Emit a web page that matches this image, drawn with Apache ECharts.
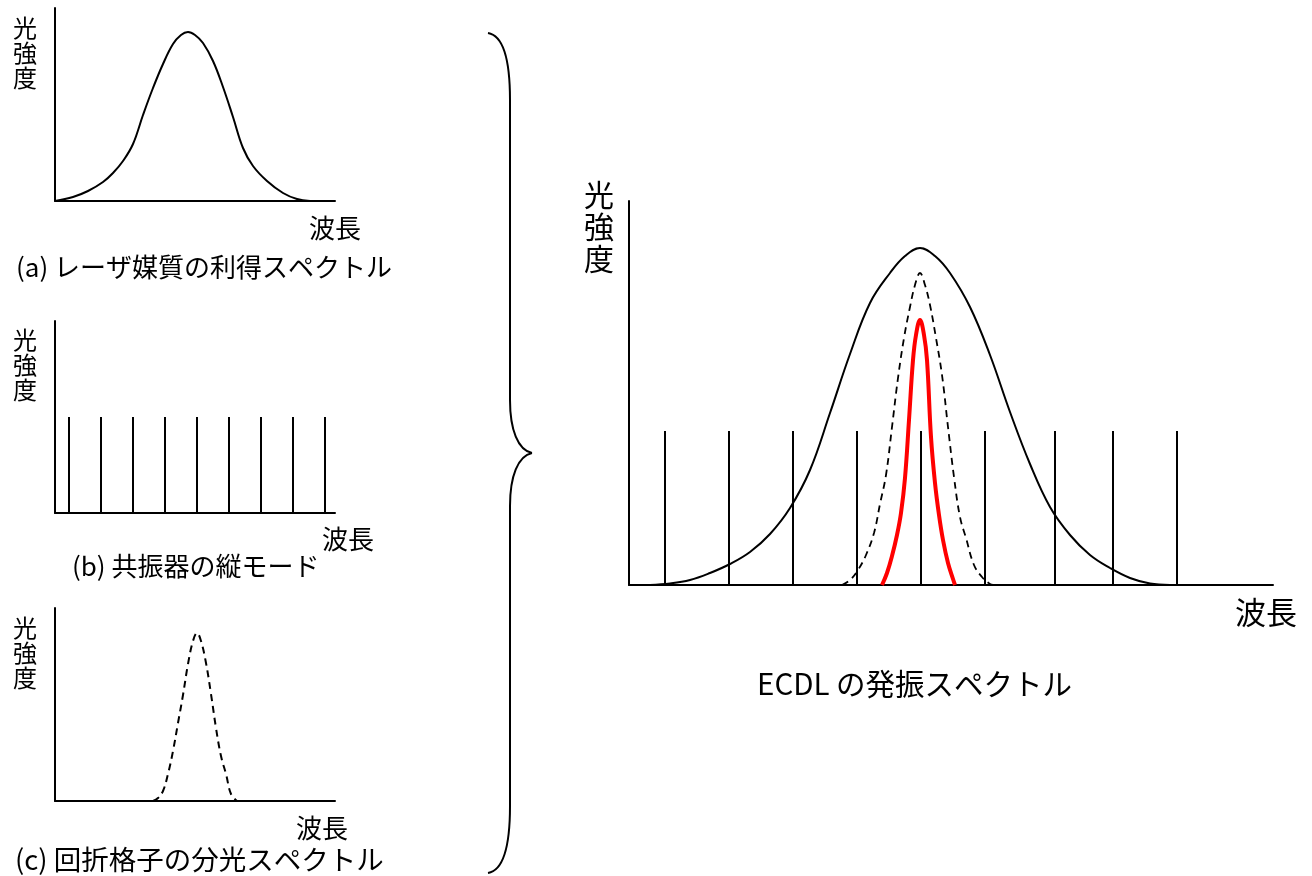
<!DOCTYPE html>
<html>
<head>
<meta charset="utf-8">
<script src="https://cdn.jsdelivr.net/npm/echarts@6/dist/echarts.min.js"></script>
<style>
html,body{margin:0;padding:0;background:#fff;}
#chart{width:1312px;height:876px;}
</style>
</head>
<body>
<div id="chart"></div>
<script>
// ---- Data (abstract wavelength / intensity units) ----
// (a) gain spectrum of the laser medium
const gainAx = [0,18,33,48,58,68,78,88,98,108,118,126,133,140,148,158,168,178,188,198,212,228,242,255];
const gainAy = [0,4,10,19,28,40,57,86,113,137,157,166,169,166,158,140,114,84,53,35,20,8,2,0];
// (b) longitudinal modes of the resonator
const modesB = [14,46,78,110,142,174,206,238,270];
const modeHeightB = 96;
// (c) grating spectrum
const gratingCx = [98,103,108,113,118,123,128,133,138,142,146,151,156,161,166,171,176,182];
const gratingCy = [0,3,10,27,50,78,106,137,160,168,160,138,107,73,45,27,7,0];
// main: ECDL oscillation spectrum
const gainMainX = [21,41,61,81,101,121,141,161,181,201,221,241,261,276,291,306,321,341,361,381,401,421,441,461,481,501,521,541];
const gainMainY = [0,1.5,5,12,21,33,51,77,115,172,231,282,312,329,337,329,312,278,230,173,121,78,50,30,17,7,1.5,0];
const modesMain = [36,100,164,228,292,356,426,484,548];
const modeHeightMain = 154;
const gratingMainX = [213,221,229,237,245,251,257,263,269,275,281,286,291,296,301,307,313,319,325,331,337,345,353,361,364];
const gratingMainY = [0,5,15,30,52,81,110,158,207,247,278,300,312,300,280,247,210,158,108,68,47,20,8,1,0];
const outputMainX = [253,258,263,268,272,276,280,284,287,291,295,298,302,306,310,314,319,324,326];
const outputMainY = [0,12,29,50,72,107,165,225,250,265,250,225,148,102,70,45,22,6,0];

// ---- Texts ----
const yName = '光\n強\n度';
const xName = '波長';
const captionA = '(a) レーザ媒質の利得スペクトル';
const captionB = '(b) 共振器の縦モード';
const captionC = '(c) 回折格子の分光スペクトル';
const titleMain = 'ECDL の発振スペクトル';

const FONT = '"Noto Sans CJK JP","Noto Sans",sans-serif';
const chart = echarts.init(document.getElementById('chart'));

const zip = (xs, ys) => xs.map((x, k) => [x, ys[k]]);

const grids = [
  {left:55, top:8, width:280, height:193},
  {left:55, top:321, width:280, height:192},
  {left:55, top:608, width:280, height:193},
  {left:629, top:201, width:644, height:384}
];
function axisX(i){ return {type:'value', gridIndex:i, min:0, max:grids[i].width, axisLine:{show:true, lineStyle:{color:'#000', width:2}}, axisTick:{show:false}, axisLabel:{show:false}, splitLine:{show:false}}; }
function axisY(i){ return {type:'value', gridIndex:i, min:0, max:grids[i].height, axisLine:{show:true, lineStyle:{color:'#000', width:2}}, axisTick:{show:false}, axisLabel:{show:false}, splitLine:{show:false}}; }

function curve(i, data, opts){
  return Object.assign({type:'line', xAxisIndex:i, yAxisIndex:i, data:data, smooth:0.4, symbol:'none',
    lineStyle:{color:'#000', width:2}, z:3}, opts||{});
}
function modes(i, xs, h, w){
  return {type:'bar', xAxisIndex:i, yAxisIndex:i, data:xs.map(x=>[x,h]), barWidth:w, itemStyle:{color:'#000'}, z:2};
}

function txt(x, y, text, size, align, vAlign, lh){
  return {type:'text', x:x, y:y, silent:true, style:{text:text, fill:'#000', font:size+'px '+FONT, textAlign:align||'left', textVerticalAlign:vAlign||'middle', lineHeight:lh||size}};
}
const braceStyle = {fill:'none', stroke:'#000', lineWidth:2};
function bz(x1,y1,c1x,c1y,c2x,c2y,x2,y2){
  return {type:'bezierCurve', silent:true, shape:{x1:x1,y1:y1,cpx1:c1x,cpy1:c1y,cpx2:c2x,cpy2:c2y,x2:x2,y2:y2}, style:braceStyle};
}
function ln(x1,y1,x2,y2){
  return {type:'line', silent:true, shape:{x1:x1,y1:y1,x2:x2,y2:y2}, style:braceStyle};
}

const option = {
  animation:false,
  backgroundColor:'#fff',
  grid: grids,
  xAxis: [0,1,2,3].map(axisX),
  yAxis: [0,1,2,3].map(axisY),
  series: [
    curve(0, zip(gainAx, gainAy)),
    modes(1, modesB, modeHeightB, 2),
    curve(2, zip(gratingCx, gratingCy), {lineStyle:{color:'#000', width:2, type:[7,5]}}),
    modes(3, modesMain, modeHeightMain, 2),
    curve(3, zip(gainMainX, gainMainY)),
    curve(3, zip(gratingMainX, gratingMainY), {lineStyle:{color:'#000', width:1.8, type:[7,5]}}),
    curve(3, zip(outputMainX, outputMainY), {lineStyle:{color:'#ff0000', width:4}, z:4})
  ],
  graphic: [
    // curly brace grouping (a)-(c)
    bz(488,33, 500,35, 510,50, 510,100),
    ln(510,100, 510,400),
    bz(510,400, 510,430, 518,450, 532,453),
    bz(532,453, 518,456, 510,476, 510,506),
    ln(510,506, 510,806),
    bz(510,806, 510,856, 500,871, 488,873),
    txt(25, 15, yName, 24, 'center', 'top', 25),
    txt(25, 327, yName, 24, 'center', 'top', 25),
    txt(25, 615, yName, 24, 'center', 'top', 25),
    txt(599, 179, yName, 30, 'center', 'top', 32),
    txt(335, 228, xName, 26, 'center'),
    txt(348, 539, xName, 26, 'center'),
    txt(322, 828, xName, 26, 'center'),
    txt(1266, 612, xName, 31, 'center'),
    txt(16, 267, captionA, 26),
    txt(72, 566, captionB, 26),
    txt(15, 860, captionC, 27.5),
    txt(757, 684, titleMain, 29.5)
  ]
};
chart.setOption(option);
</script>
</body>
</html>
